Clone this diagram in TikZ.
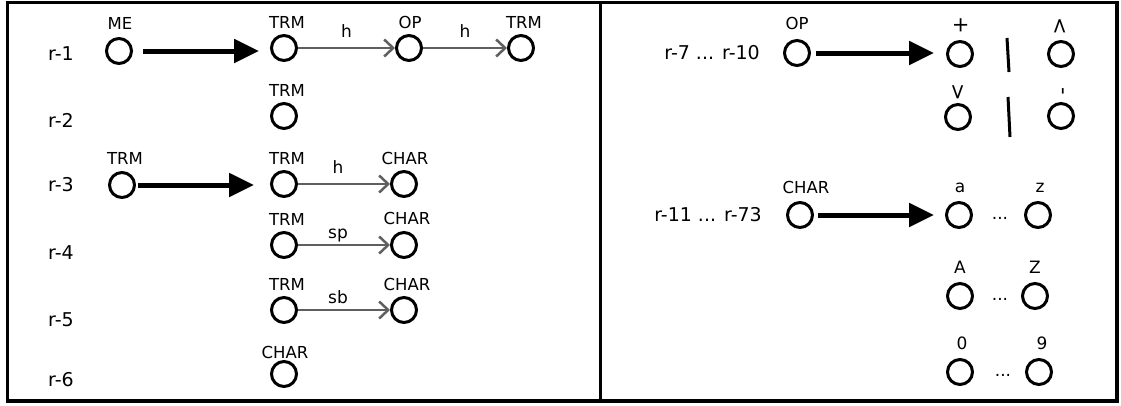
\documentclass[tikz,border=0pt]{standalone}
\usepackage{fontspec}
\setmainfont{DejaVu Sans}
\usetikzlibrary{arrows.meta}
\begin{document}
\begin{tikzpicture}[x=1pt,y=-1pt,
  st/.style={circle,draw,line width=3pt,minimum size=25pt,inner sep=0pt},
  lab/.style={font=\fontsize{16.5}{16.5}\selectfont,inner sep=0pt,anchor=base},
  rlab/.style={font=\fontsize{17}{17}\selectfont,inner sep=0pt,anchor=base},
  oplab/.style={font=\fontsize{21}{21}\selectfont,inner sep=0pt,rotate=-90,anchor=center},
  rowlab/.style={font=\fontsize{19}{19}\selectfont,inner sep=0pt,anchor=base west},
  rowlabr/.style={font=\fontsize{19}{19}\selectfont,inner sep=0pt,anchor=base east},
  elab/.style={font=\fontsize{17}{17}\selectfont,inner sep=0pt,anchor=base,midway},
  bigarrow/.style={line width=5pt,-{Triangle[length=25pt,width=23pt]}},
  garrow/.style={draw={rgb,255:red,95;green,95;blue,95},line width=2.5pt,-{Straight Barb[length=9pt,width=17pt]}},
  bar/.style={line width=3pt},
  frame/.style={line width=3.5pt}
]
\useasboundingbox (0,0) rectangle (1121,405);
% frames
\draw[frame] (7.5,2.5) rectangle (1117,401);
\draw[frame] (600.5,2.5) -- (600.5,401);

% ---------- left panel ----------
\node[rowlab] (r1) at (48,60.5) {r-1};
\node[rowlab] (r2) at (48,127.5) {r-2};
\node[rowlab] (r3) at (48,191.5) {r-3};
\node[rowlab] (r4) at (48,259.5) {r-4};
\node[rowlab] (r5) at (48,326.5) {r-5};
\node[rowlab] (r6) at (48,386.5) {r-6};

\node[st] (me) at (119,51) {};
\node[lab] (mel) at (120,29) {ME};
\node[st] (t1a) at (284,48) {};
\node[lab] (t1al) at (287,28) {TRM};
\node[st] (o1b) at (409,48) {};
\node[lab] (o1bl) at (410,28) {OP};
\node[st] (t1c) at (521,48) {};
\node[lab] (t1cl) at (524,28) {TRM};
\draw[bigarrow,shorten <=24pt,shorten >=25pt] (me.center) -- (me.center -| t1a.center);
\draw[garrow] (t1a) -- node[elab,yshift=11pt] (h1) {h} (o1b);
\draw[garrow] (o1b) -- node[elab,yshift=11pt] (h2) {h} (t1c);

\node[st] (t2) at (284,116) {};
\node[lab] (t2l) at (287,96) {TRM};

\node[st] (t3l) at (122,185) {};
\node[lab] (t3ll) at (125,164) {TRM};
\node[st] (t3a) at (284,184) {};
\node[lab] (t3al) at (287,164) {TRM};
\node[st] (c3b) at (404,184) {};
\node[lab] (c3bl) at (405,164) {CHAR};
\draw[bigarrow,shorten <=16pt,shorten >=30pt] (t3l.center) -- (t3l.center -| t3a.center);
\draw[garrow] (t3a) -- node[elab,yshift=11pt,xshift=-6pt] (h3) {h} (c3b);

\node[st] (t4a) at (284,245) {};
\node[lab] (t4al) at (287,225) {TRM};
\node[st] (c4b) at (404,245) {};
\node[lab] (c4bl) at (407,224) {CHAR};
\draw[garrow] (t4a) -- node[elab,yshift=7pt,xshift=-6pt] (sp) {sp} (c4b);

\node[st] (t5a) at (284,310) {};
\node[lab] (t5al) at (287,290) {TRM};
\node[st] (c5b) at (404,310) {};
\node[lab] (c5bl) at (407,290) {CHAR};
\draw[garrow] (t5a) -- node[elab,yshift=7pt,xshift=-6pt] (sb) {sb} (c5b);

\node[st] (c6) at (284,374) {};
\node[lab] (c6l) at (285,358) {CHAR};

% ---------- right panel ----------
\node[rowlabr] (r7) at (760,59.5) {r-7 ... r-10};
\node[st] (opr) at (797,53) {};
\node[lab] (oprl) at (797,29) {OP};
\node[st] (plus) at (960,54) {};
\node[oplab] (plusl) at (961,25) {+};
\node[st] (lt) at (1061,54) {};
\node[oplab] (ltl) at (1060,26) {<};
\node[st] (gt) at (958,117) {};
\node[oplab] (gtl) at (958,92) {>};
\node[st] (minus) at (1061,116) {};
\node[oplab] (minusl) at (1061,91) {-};
\draw[bigarrow,shorten <=19pt,shorten >=26pt] (opr.center) -- (opr.center -| plus.center);
\draw[bar] (1007,38) -- (1009,72);
\draw[bar] (1008,97) -- (1010,137);

\node[rowlabr] (r11) at (762,221.5) {r-11 ... r-73};
\node[st] (charr) at (800,215) {};
\node[lab] (charrl) at (806,193) {CHAR};
\node[st] (la) at (959,215) {};
\node[rlab] (lal) at (960,192) {a};
\node[rlab] (d1) at (1000,219) {...};
\node[st] (lz) at (1038,215) {};
\node[rlab] (lzl) at (1040,192) {z};
\draw[bigarrow,shorten <=18pt,shorten >=25pt] (charr.center) -- (charr.center -| la.center);

\node[st] (ua) at (960,296) {};
\node[rlab] (ual) at (960,273) {A};
\node[rlab] (d2) at (1000,300) {...};
\node[st] (uz) at (1035,296) {};
\node[rlab] (uzl) at (1035,273) {Z};

\node[st] (n0) at (960,372) {};
\node[rlab] (n0l) at (962,349) {0};
\node[rlab] (d3) at (1003,376) {...};
\node[st] (n9) at (1039,372) {};
\node[rlab] (n9l) at (1042,349) {9};
\end{tikzpicture}
\end{document}
